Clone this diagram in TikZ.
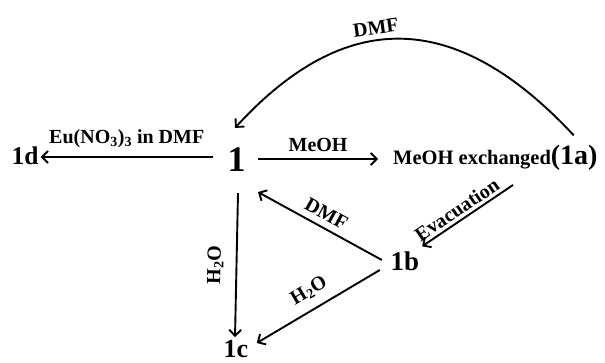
\documentclass[tikz,border=0pt]{standalone}
\usepackage{fontspec}
\setmainfont{Liberation Serif}
\usetikzlibrary{arrows.meta}
\tikzset{
  arr/.style={line width=1.9pt, -{Straight Barb[length=6pt,width=12pt]}},
  cmp/.style={inner sep=0pt, font=\bfseries\fontsize{26}{26}\selectfont},
  lbl/.style={inner sep=0pt, font=\bfseries\fontsize{20}{20}\selectfont},
}
\begin{document}
\begin{tikzpicture}[x=1pt,y=-1pt]
\useasboundingbox (0,0) rectangle (605,363);
\node[inner sep=0pt, font=\bfseries\fontsize{36}{36}\selectfont] (one) at (236.5,160) {1};
\node[cmp, font=\bfseries\fontsize{25.5}{25.5}\selectfont] (oned) at (25,156) {1d};
\node[cmp] (onec) at (236,349) {1c};
\node[cmp, font=\bfseries\fontsize{27}{27}\selectfont] (oneb) at (405,261) {1b};
\node[inner sep=0pt, anchor=base west, font=\bfseries\fontsize{20.5}{20.5}\selectfont] (onea) at (393,165) {MeOH exchanged{\fontsize{28}{28}\selectfont(1a)}};

\draw[arr] ([shift={(-14.5,-3)}]one.west) -- node[lbl, above=8pt, pos=0.5] {Eu(NO\textsubscript{3})\textsubscript{3} in DMF} ([shift={(2,1)}]oned.east);
\draw[arr] ([shift={(12.5,-1)}]one.east) -- node[lbl, above=6pt] {MeOH} ([shift={(-15,-6)}]onea.base west);
\draw[arr] ([shift={(-24,-10)}]onea.north east) .. controls (455,8) and (345,8) .. node[lbl, pos=0.57, sloped, above=5pt] {DMF} ([shift={(-1.5,-20)}]one.north);
\draw[arr] ([shift={(120,20)}]onea.base west) -- node[lbl, sloped, above=3pt, pos=0.55] {Evacuation} ([shift={(2.7,-5)}]oneb.north east);
\draw[arr] ([shift={(-8.7,-1)}]oneb.west) -- node[lbl, sloped, above=6pt] {DMF} ([shift={(21.5,20)}]one.south);
\draw[arr] ([shift={(-10.7,9)}]oneb.west) -- node[lbl, sloped, above=9pt] {H\textsubscript{2}O} ([shift={(8.3,-6)}]onec.east);
\draw[arr] ([shift={(1.5,21)}]one.south) -- node[lbl, sloped, above=12pt] {H\textsubscript{2}O} ([shift={(-1,-3)}]onec.north);
\end{tikzpicture}
\end{document}
